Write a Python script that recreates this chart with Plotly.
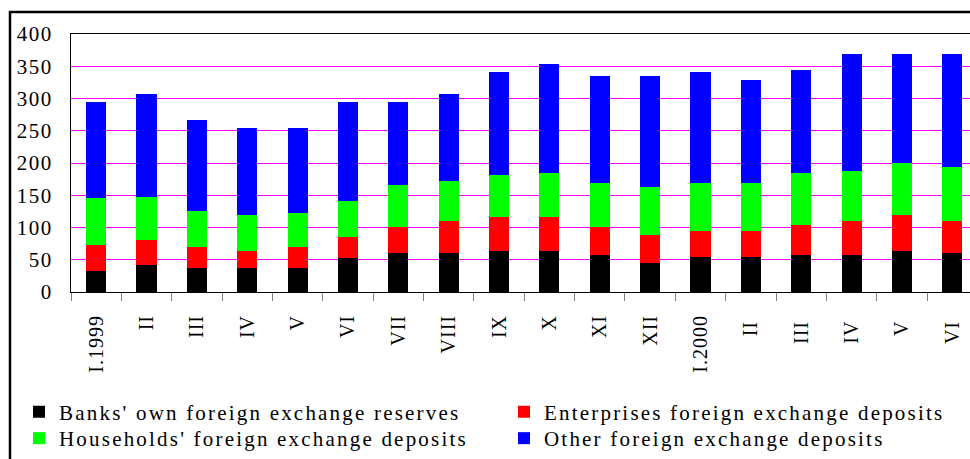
import plotly.graph_objects as go

# Monthly foreign exchange holdings, stacked by source
months = ["I.1999", "II", "III", "IV", "V", "VI", "VII", "VIII", "IX", "X",
          "XI", "XII", "I.2000", "II ", "III ", "IV ", "V ", "VI "]
banks_reserves = [33, 42, 37, 37, 37, 52, 61, 61, 64, 64, 58, 45, 55, 55, 58, 58, 64, 61]
enterprises_deposits = [40, 38, 33, 27, 33, 34, 40, 49, 53, 53, 43, 44, 40, 40, 46, 52, 56, 49]
households_deposits = [72, 68, 56, 56, 53, 55, 65, 62, 65, 68, 68, 74, 74, 74, 81, 78, 80, 84]
other_deposits = [150, 159, 141, 134, 131, 154, 129, 135, 159, 169, 166, 172, 172, 160, 159, 181, 169, 175]

# name, values, colour, legend row
series = [
    ("Banks' own foreign exchange reserves", banks_reserves, "#000000", "legend"),
    ("Enterprises foreign exchange deposits", enterprises_deposits, "#FF0000", "legend"),
    ("Households' foreign exchange deposits", households_deposits, "#00FF00", "legend2"),
    ("Other foreign exchange deposits", other_deposits, "#0000FF", "legend2"),
]

FONT = "Liberation Serif"
W, H = 970, 459
ML, MT, MB = 71, 34, 167
plot_w = W - ML
plot_h = H - MT - MB
step = 50.36  # pixels per month


def px_x(px):
    return (px - ML) / plot_w


def px_y(py):
    return (H - MB - py) / plot_h


fig = go.Figure()
for name, vals, col, leg in series:
    fig.add_trace(go.Bar(x=months, y=vals, name=name, legend=leg,
                         marker=dict(color=col, line=dict(width=0))))


def legend_row(top_px):
    return dict(
        orientation="h", traceorder="normal",
        x=px_x(19), xanchor="left", y=px_y(top_px), yanchor="top",
        entrywidth=440, entrywidthmode="pixels",
        font=dict(family=FONT, size=21, color="black"),
        bgcolor="rgba(0,0,0,0)", borderwidth=0,
        itemclick=False, itemdoubleclick=False,
    )


fig.update_layout(
    width=W, height=H,
    margin=dict(l=ML, r=0, t=MT, b=MB, autoexpand=False),
    paper_bgcolor="white", plot_bgcolor="white",
    barmode="stack", bargap=0.6,
    font=dict(family=FONT, size=21, color="black"),
    showlegend=True,
    legend=legend_row(391.5),
    legend2=legend_row(418),
    xaxis=dict(
        type="category", range=[-0.5, -0.5 + plot_w / step],
        tickson="boundaries", ticks="outside", ticklen=8, tickwidth=1,
        tickcolor="#808080", tickangle=-90, ticklabelstandoff=14,
        showline=True, linecolor="black", linewidth=1, mirror=True,
        showgrid=False, zeroline=False,
        tickfont=dict(family=FONT, size=20, color="black"),
    ),
    yaxis=dict(
        range=[0, 400], dtick=50, tick0=0,
        ticks="", ticklabelstandoff=13,
        showline=True, linecolor="black", linewidth=1,
        showgrid=True, gridcolor="#FF00FF", gridwidth=1, zeroline=False,
        tickfont=dict(family=FONT, size=21, color="black"),
    ),
    shapes=[
        # outer chart frame (only its top and left edges fall inside the page)
        dict(type="rect", xref="paper", yref="paper",
             x0=px_x(10), x1=px_x(W + 20), y0=px_y(H + 20), y1=px_y(12),
             line=dict(color="black", width=2.5), fillcolor="rgba(0,0,0,0)"),
    ],
)

# widen the letter spacing of the serif labels with a page stylesheet,
# so it survives any redraw of the svg
spacing_js = """
var css = document.createElement('style');
css.textContent =
  '.infolayer text.legendtext, .infolayer g.traces text { letter-spacing: 2.2px; }' +
  '.xtick text { letter-spacing: 1px; }' +
  '.ytick text { letter-spacing: 1.5px; }';
document.head.appendChild(css);
"""

fig.write_html("out.html", config={"displayModeBar": False, "responsive": False},
               post_script=spacing_js)
